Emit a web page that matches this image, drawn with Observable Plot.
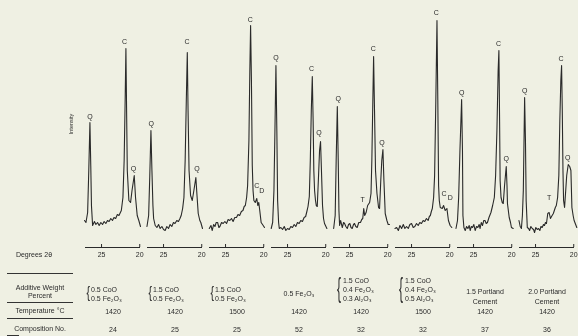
<!DOCTYPE html>
<html><head><meta charset="utf-8">
<script src="https://cdn.jsdelivr.net/npm/d3@7"></script>
<script src="https://cdn.jsdelivr.net/npm/@observablehq/plot@0.6"></script>
<style>
html,body{margin:0;padding:0;background:#eff0e3;}
#wrap{position:relative;width:578px;height:336px;overflow:hidden;font-family:"Liberation Sans",Arial,sans-serif;color:#2b2b2b;filter:grayscale(1);}
#wrap svg{position:absolute;left:0;top:0;}
.rowlab{position:absolute;width:70px;text-align:center;font-size:7px;line-height:8.5px;}
.rule{position:absolute;left:7px;width:66px;border-top:1.5px solid #333;height:0;}
</style></head><body><div id="wrap"></div>
<script>
// Panel ids (one per diffraction pattern)
const panelIds = [1, 2, 3, 4, 5, 6, 7, 8];

// Traces: [2θ (degrees), intensity (arbitrary units)]
const trace1 = [[27.23,27],[27.04,25],[26.82,35],[26.67,77],[26.52,125],[26.41,82],[26.32,42],[26.17,22],[25.93,26],[25.74,23],[25.52,25],[25.31,22],[25.09,25],[24.87,23],[24.66,26],[24.44,24],[24.22,27],[24.01,26],[23.79,29],[23.57,27],[23.37,30],[23.15,29],[22.93,33],[22.72,32],[22.41,37],[22.2,50],[22.04,87],[21.91,147],[21.81,199],[21.72,137],[21.63,77],[21.42,47],[21.2,45],[21.01,57],[20.72,72],[20.55,50],[20.33,32],[20.12,27],[19.9,21]];
const trace2 = [[27.17,21],[26.95,32],[26.8,72],[26.65,117],[26.52,77],[26.39,42],[26.3,29],[26.09,22],[25.87,20],[25.65,23],[25.44,19],[25.22,21],[25.0,18],[24.79,17],[24.57,21],[24.35,19],[24.14,23],[23.92,21],[23.7,25],[23.5,24],[23.27,27],[23.05,26],[22.85,29],[22.69,32],[22.5,39],[22.33,50],[22.17,87],[22.02,147],[21.89,195],[21.79,137],[21.66,77],[21.46,52],[21.24,47],[21.03,57],[20.77,70],[20.62,52],[20.46,34],[20.25,27],[20.12,25],[19.9,19]];
const trace3 = [[27.13,19],[26.91,22],[26.74,17],[26.56,23],[26.39,21],[26.22,25],[26.04,25],[25.87,20],[25.74,21],[25.52,25],[25.31,24],[25.09,26],[24.87,24],[24.66,28],[24.44,27],[24.22,29],[24.01,26],[23.79,30],[23.57,30],[23.37,33],[23.15,32],[22.93,36],[22.72,37],[22.56,41],[22.41,42],[22.24,50],[22.11,62],[21.94,107],[21.82,177],[21.72,222],[21.61,167],[21.5,82],[21.4,57],[21.29,47],[21.11,45],[20.91,49],[20.78,42],[20.65,45],[20.52,37],[20.34,25],[20.07,22],[19.9,20]];
const trace4 = [[27.14,19],[26.95,25],[26.78,57],[26.65,117],[26.52,182],[26.4,117],[26.3,47],[26.17,25],[26.08,19],[25.87,20],[25.65,18],[25.43,21],[25.22,17],[25.0,19],[24.78,18],[24.57,21],[24.35,20],[24.13,23],[23.92,21],[23.7,25],[23.48,24],[23.27,27],[23.05,26],[22.83,30],[22.63,31],[22.47,36],[22.32,41],[22.15,51],[22.02,87],[21.89,137],[21.76,171],[21.65,127],[21.56,77],[21.46,57],[21.34,47],[21.24,42],[21.11,41],[20.94,72],[20.81,97],[20.68,106],[20.56,77],[20.42,42],[20.29,29],[20.16,24],[19.85,19]];
const trace5 = [[27.08,19],[26.88,32],[26.75,87],[26.6,141],[26.48,87],[26.39,37],[26.3,22],[26.17,27],[25.95,20],[25.78,25],[25.65,24],[25.48,21],[25.3,19],[25.13,23],[24.96,24],[24.81,20],[24.65,19],[24.48,23],[24.35,24],[24.18,21],[24.0,20],[23.79,25],[23.57,25],[23.4,28],[23.27,29],[23.14,39],[23.02,32],[22.83,35],[22.63,42],[22.37,45],[22.19,54],[22.08,87],[21.95,147],[21.85,191],[21.73,137],[21.6,77],[21.41,54],[21.2,40],[21.07,39],[20.91,67],[20.78,87],[20.63,98],[20.5,67],[20.33,34],[20.11,27],[19.94,23],[19.77,23]];
const trace6 = [[27.17,19],[26.95,20],[26.73,17],[26.52,22],[26.3,19],[26.08,23],[25.87,19],[25.65,21],[25.43,19],[25.22,23],[25.0,24],[24.78,20],[24.57,21],[24.35,24],[24.13,22],[23.92,25],[23.7,24],[23.48,27],[23.27,26],[23.05,29],[22.83,27],[22.67,31],[22.54,32],[22.41,36],[22.28,39],[22.11,50],[21.98,72],[21.82,147],[21.67,227],[21.56,147],[21.46,62],[21.37,47],[21.24,40],[20.98,39],[20.81,42],[20.59,37],[20.37,39],[20.17,27],[19.95,22],[19.73,20]];
const trace7 = [[27.3,19],[27.1,27],[26.95,50],[26.78,97],[26.56,148],[26.45,97],[26.39,32],[26.26,20],[26.09,17],[25.91,21],[25.74,19],[25.57,22],[25.44,17],[25.29,21],[25.13,20],[24.96,23],[24.79,17],[24.61,21],[24.44,20],[24.27,23],[24.14,19],[23.99,25],[23.83,22],[23.66,27],[23.5,27],[23.34,24],[23.18,25],[22.98,30],[22.72,35],[22.5,42],[22.28,50],[22.11,72],[21.94,117],[21.78,177],[21.68,197],[21.59,127],[21.52,67],[21.4,50],[21.24,45],[21.11,44],[20.94,62],[20.72,81],[20.62,62],[20.56,44],[20.33,30],[20.16,25],[20.04,20],[19.81,19]];
const trace8 = [[27.17,27],[27.01,21],[26.85,19],[26.72,32],[26.6,57],[26.49,117],[26.43,150],[26.32,107],[26.23,47],[26.08,20],[25.91,19],[25.78,17],[25.61,21],[25.43,19],[25.26,18],[25.13,15],[24.96,20],[24.78,18],[24.61,19],[24.44,17],[24.29,21],[24.13,20],[23.96,23],[23.83,22],[23.7,25],[23.57,24],[23.4,34],[23.22,35],[23.05,29],[22.83,32],[22.67,34],[22.54,37],[22.41,40],[22.28,42],[22.11,50],[21.95,72],[21.82,127],[21.69,167],[21.59,182],[21.5,137],[21.41,77],[21.33,47],[21.2,40],[21.05,57],[20.92,72],[20.72,83],[20.53,81],[20.37,77],[20.24,40],[20.08,32],[19.95,27],[19.6,20]];
const traces = [trace1, trace2, trace3, trace4, trace5, trace6, trace7, trace8];

// Peak identifications: [panel, 2θ, intensity, label]
const peakLabels = [
  [1,26.52,124,"Q"],[1,21.98,199,"C"],[1,20.81,72,"Q"],
  [2,26.6,117,"Q"],[2,21.94,199,"C"],[2,20.64,72,"Q"],
  [3,21.76,221,"C"],[3,20.91,55,"C"],[3,20.25,50,"D"],
  [4,26.52,183,"Q"],[4,21.85,172,"C"],[4,20.9,108,"Q"],
  [5,26.47,142,"Q"],[5,21.89,192,"C"],[5,20.76,98,"Q"],[5,23.27,41,"T"],
  [6,21.76,228,"C"],[6,20.76,47,"C"],[6,19.94,43,"D"],
  [7,26.56,148,"Q"],[7,21.73,197,"C"],[7,20.72,82,"Q"],
  [8,26.43,150,"Q"],[8,21.66,182,"C"],[8,20.8,83,"Q"],[8,23.22,43,"T"]
];

// Axis tick labels (degrees 2θ)
const xTicks = [25, 20];

// Table below the patterns
const additive = [
  ["0.5 CoO", "0.5 Fe₂O₃"],
  ["1.5 CoO", "0.5 Fe₂O₃"],
  ["1.5 CoO", "0.5 Fe₂O₃"],
  ["0.5 Fe₂O₃"],
  ["1.5 CoO", "0.4 Fe₂O₃", "0.3 Al₂O₃"],
  ["1.5 CoO", "0.4 Fe₂O₃", "0.5 Al₂O₃"],
  ["1.5 Portland", "Cement"],
  ["2.0 Portland", "Cement"]
];
const temperature = ["1420", "1420", "1500", "1420", "1420", "1500", "1420", "1420"];
const composition = ["24", "25", "25", "52", "32", "32", "37", "36"];
const rowLabels = ["Degrees 2θ", "Additive Weight\nPercent", "Temperature °C", "Composition No."];
const yLabel = "Intensity";

// ---- build tables for Plot ----
const points = traces.flatMap((t, i) => t.map(([theta, intensity]) => ({panel: panelIds[i], theta, intensity})));
const peaks = peakLabels.map(([panel, theta, intensity, label]) => ({panel, theta, intensity, label}));
const addRows = additive.map((lines, i) => ({panel: panelIds[i], text: lines.join("\n"), n: lines.length, brace: lines[0].includes("CoO")}));
const tempRows = temperature.map((t, i) => ({panel: panelIds[i], text: t}));
const compRows = composition.map((t, i) => ({panel: panelIds[i], text: t}));

const ink = "#2a2a2a";
const font = "Liberation Sans, Arial, sans-serif";

const chart = Plot.plot({
  width: 578, height: 336,
  marginLeft: 84, marginRight: 3.5, marginTop: 8, marginBottom: 89,
  style: {background: "transparent", fontFamily: font, fontSize: "7px", color: ink, overflow: "visible"},
  fx: {domain: panelIds, axis: null, paddingInner: 0.107, paddingOuter: 0},
  x: {domain: [27.1, 19.9]},
  y: {domain: [0, 239], axis: null},
  marks: [
    Plot.ruleY([0], {stroke: ink, strokeWidth: 1.2}),
    Plot.axisX({ticks: xTicks, tickSize: -3, tickFormat: () => "", stroke: ink, label: null}),
    Plot.axisX({ticks: xTicks, tickSize: 0, tickPadding: 5, fontSize: 7, fill: ink, label: null}),
    Plot.line(points, {fx: "panel", x: "theta", y: "intensity", stroke: ink, strokeWidth: 1.1, strokeLinejoin: "round"}),
    Plot.text(peaks, {fx: "panel", x: "theta", y: "intensity", text: "label", dy: -7, fontSize: 7, fill: ink}),
    Plot.text([yLabel], {fx: () => panelIds[0], text: d => d, frameAnchor: "left", rotate: -90, textAnchor: "middle", dx: -14, dy: -4, fontSize: 5.5, fill: ink}),
    // braces
    Plot.text(addRows.filter(d => d.brace && d.n === 2), {fx: "panel", text: () => "{", frameAnchor: "bottom-left", textAnchor: "start", lineAnchor: "middle", dx: 1, dy: 45.5, fontSize: 17, fill: ink}),
    Plot.text(addRows.filter(d => d.brace && d.n === 3), {fx: "panel", text: () => "{", frameAnchor: "bottom-left", textAnchor: "start", lineAnchor: "middle", dx: 3.5, dy: 40.5, fontSize: 27, fill: ink}),
    // additive text
    Plot.text(addRows.filter(d => d.brace && d.n === 2), {fx: "panel", text: "text", frameAnchor: "bottom-left", textAnchor: "start", lineAnchor: "bottom", lineHeight: 1.29, dx: 5.5, dy: 53.5, fontSize: 7, fill: ink}),
    Plot.text(addRows.filter(d => d.brace && d.n === 3), {fx: "panel", text: "text", frameAnchor: "bottom-left", textAnchor: "start", lineAnchor: "bottom", lineHeight: 1.29, dx: 9.5, dy: 53.5, fontSize: 7, fill: ink}),
    Plot.text(addRows.filter(d => !d.brace && d.n > 1), {fx: "panel", text: "text", frameAnchor: "bottom", lineAnchor: "bottom", lineHeight: 1.29, dy: 56, fontSize: 7, fill: ink}),
    Plot.text(addRows.filter(d => !d.brace && d.n === 1), {fx: "panel", text: "text", frameAnchor: "bottom", lineAnchor: "middle", dy: 46, fontSize: 7, fill: ink}),
    Plot.text(tempRows, {fx: "panel", text: "text", frameAnchor: "bottom", lineAnchor: "middle", dy: 64, fontSize: 7, fill: ink}),
    Plot.text(compRows, {fx: "panel", text: "text", frameAnchor: "bottom", lineAnchor: "middle", dy: 82, fontSize: 7, fill: ink})
  ]
});

// narrow the braces (the scan's braces are tall and thin)
chart.querySelectorAll("text").forEach(t => {
  if (t.textContent === "{") {
    const fs = parseFloat(t.parentNode.getAttribute("font-size") || t.getAttribute("font-size") || "17");
    t.setAttribute("textLength", fs > 20 ? 4 : 3.5);
    t.setAttribute("lengthAdjust", "spacingAndGlyphs");
  }
});

const wrap = document.getElementById("wrap");
wrap.appendChild(chart);

// left-hand row headers of the table
const headerPos = [
  {text: rowLabels[0], cx: 34, top: 251},
  {text: rowLabels[1], cx: 40, top: 283.5},
  {text: rowLabels[2], cx: 40, top: 306.5},
  {text: rowLabels[3], cx: 40, top: 324.5}
];
headerPos.forEach(h => {
  const d = document.createElement("div");
  d.className = "rowlab";
  d.style.left = (h.cx - 35) + "px";
  d.style.top = h.top + "px";
  d.innerHTML = h.text.replace("\n", "<br>");
  wrap.appendChild(d);
});
[273, 302, 318].forEach(y => {
  const r = document.createElement("div");
  r.className = "rule";
  r.style.top = y + "px";
  wrap.appendChild(r);
});
const r2 = document.createElement("div");
r2.className = "rule"; r2.style.top = "335px"; r2.style.width = "12px";
wrap.appendChild(r2);
</script></body></html>
